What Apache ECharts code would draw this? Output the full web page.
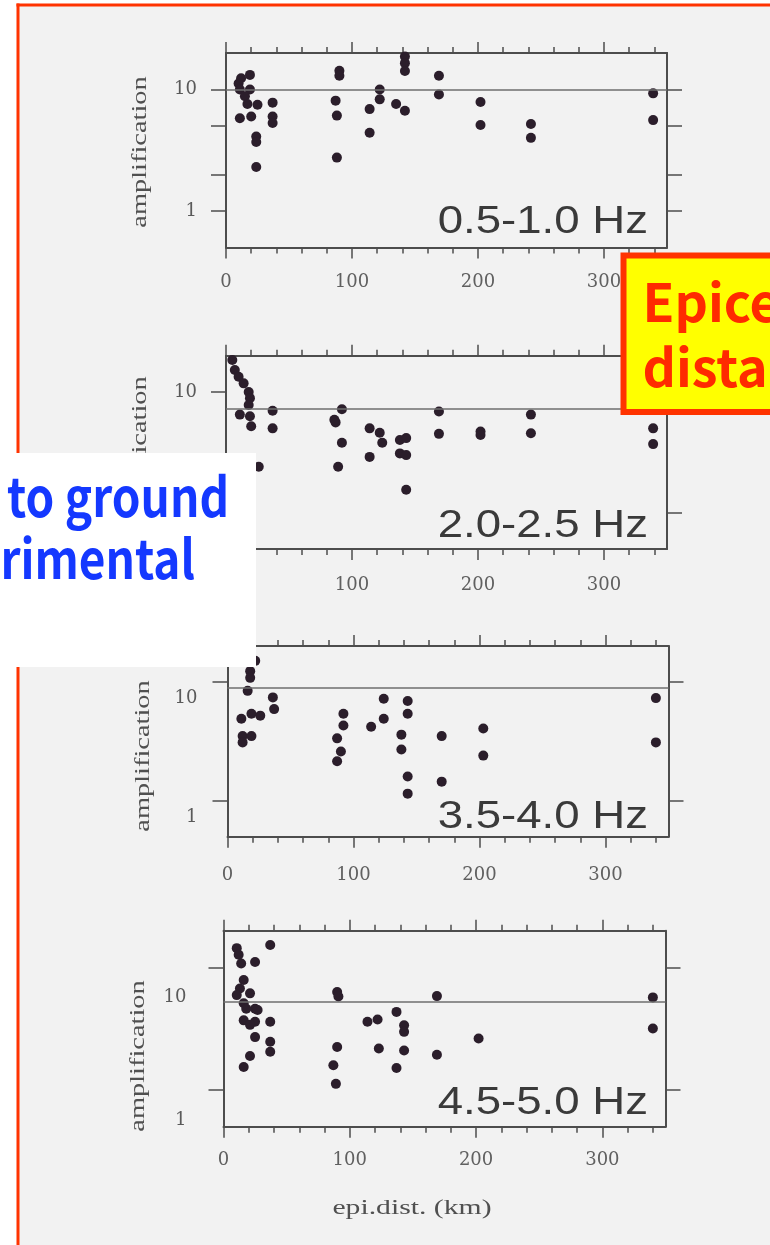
<!DOCTYPE html>
<html>
<head>
<meta charset="utf-8">
<script src="https://cdn.jsdelivr.net/npm/echarts@6/dist/echarts.min.js"></script>
<style>
html, body { margin: 0; padding: 0; background: #ffffff; }
#main { width: 770px; height: 1245px; }
</style>
</head>
<body>
<div id="main"></div>
<script>
// epicentral distance (km) / amplification, one pair of arrays per frequency band
var p1Dist = [10, 12, 19, 11, 19, 15, 17, 25, 11, 20, 37, 37, 37, 24, 24, 24, 87, 88, 90, 90, 88, 114, 114, 122, 122, 135, 142, 142, 142, 142, 169, 169, 202, 202, 242, 242, 339, 339];
var p1Amp  = [11.2, 12.4, 13.2, 10, 10, 8.8, 7.6, 7.5, 5.8, 6.0, 7.8, 6.0, 5.3, 4.1, 3.7, 2.3, 8.1, 6.1, 14.3, 13.0, 2.75, 6.9, 4.4, 10, 8.3, 7.6, 6.7, 18.7, 16.5, 14.2, 13.0, 9.1, 7.9, 5.1, 5.2, 4.0, 9.3, 5.6];

var p2Dist = [5, 7, 10, 14, 18, 19, 18, 11, 19, 20, 37, 37, 26, 92, 87, 86, 92, 89, 114, 122, 124, 114, 138, 143, 138, 143, 143, 169, 169, 202, 202, 242, 242, 339, 339];
var p2Amp  = [18.4, 15.2, 13.4, 11.8, 10, 8.9, 7.8, 6.5, 6.3, 5.2, 7.0, 5.0, 2.4, 7.2, 5.6, 5.9, 3.8, 2.4, 5.0, 4.6, 3.8, 2.9, 4.0, 4.15, 3.1, 3.0, 1.55, 6.9, 4.5, 4.7, 4.4, 6.5, 4.55, 5.0, 3.7];

var p3Dist = [22, 18, 18, 16, 36, 37, 11, 19, 26, 12, 19, 12, 92, 92, 87, 90, 87, 114, 124, 124, 143, 143, 138, 138, 143, 143, 170, 170, 203, 203, 340, 340];
var p3Amp  = [15, 12.3, 10.8, 8.4, 7.4, 5.9, 4.9, 5.4, 5.2, 3.5, 3.5, 3.1, 5.4, 4.3, 3.35, 2.6, 2.15, 4.2, 4.9, 7.2, 6.9, 5.4, 3.6, 2.7, 1.6, 1.15, 3.5, 1.45, 4.05, 2.4, 7.3, 3.1];

var p4Dist = [10.5, 12, 14, 25, 37, 16, 13, 10.5, 21, 16, 25, 18, 27, 16, 25, 21, 37, 25, 37, 37, 21, 16, 90, 91, 90, 87, 89, 114, 122, 123, 137, 143, 143, 143, 137, 169, 169, 202, 340, 340];
var p4Amp  = [14.4, 12.7, 10.8, 11.1, 15.3, 7.9, 6.75, 5.95, 6.15, 5.1, 4.6, 4.6, 4.5, 3.7, 3.6, 3.4, 3.6, 2.7, 2.47, 2.05, 1.89, 1.54, 6.3, 5.8, 2.24, 1.59, 1.12, 3.6, 3.76, 2.18, 4.34, 3.38, 2.98, 2.1, 1.51, 5.84, 1.94, 2.63, 5.7, 3.17];

var bandNames = ['0.5-1.0 Hz', '2.0-2.5 Hz', '3.5-4.0 Hz', '4.5-5.0 Hz'];
var refLevel = [10, 7.2, 9, 5.25];        // grey horizontal line in each panel
var xTickLabels = [0, 100, 200, 300];
var xMinorTicks = [20, 40, 60, 80, 120, 140, 160, 180, 220, 240, 260, 280, 320, 340];
var yTickLabels = [1, 10];
var p1YTicks = [1, 2, 5, 10];
var p2YTicks = [1, 10];
var p3YTicks = [1, 10];
var p4YTicks = [1, 10];

var chart = echarts.init(document.getElementById('main'));

var axisColor = '#4d4d4d';
var dotColor = '#2b1e2b';
var serif = '"DejaVu Serif", serif';

// panel placement (yLabOff: the scanned labels sit below their ticks)
var panels = [
  { dist: p1Dist, amp: p1Amp, ticks: p1YTicks, left: 226, top: 53, width: 441, height: 194.5, yLabOff: 0, yLabMargin: 29, xLabMargin: 26, nameX: 141, nameY: 152, bandY: 223 },
  { dist: p2Dist, amp: p2Amp, ticks: p2YTicks, left: 226, top: 355.7, width: 441, height: 193.3, yLabOff: 0, yLabMargin: 29, xLabMargin: 27, nameX: 141, nameY: 452, bandY: 527 },
  { dist: p3Dist, amp: p3Amp, ticks: p3YTicks, left: 227.5, top: 646, width: 441, height: 190.7, yLabOff: 16, yLabMargin: 30, xLabMargin: 30, nameX: 144, nameY: 756, bandY: 818 },
  { dist: p4Dist, amp: p4Amp, ticks: p4YTicks, left: 223.5, top: 930.7, width: 442, height: 196, yLabOff: 30, yLabMargin: 37, xLabMargin: 25, nameX: 139, nameY: 1056, bandY: 1104 }
];

var grids = [], xAxes = [], yAxes = [], series = [], graphics = [];

// page background and the red frame
graphics.push({ type: 'rect', z: -10, silent: true, shape: { x: 18, y: 5, width: 760, height: 1250 }, style: { fill: '#f2f2f2' } });
graphics.push({ type: 'rect', z: 60, silent: true, shape: { x: 16.5, y: 3.5, width: 760, height: 3 }, style: { fill: '#ff3300' } });
graphics.push({ type: 'rect', z: 60, silent: true, shape: { x: 16.5, y: 3.5, width: 3, height: 1250 }, style: { fill: '#ff3300' } });

panels.forEach(function (p, i) {
  grids.push({ left: p.left, top: p.top, width: p.width, height: p.height, containLabel: false, outerBoundsMode: 'none' });

  var lineSt = { color: axisColor, width: 2 };
  var tickSt = { color: axisColor, width: 1.5 };
  function xAxis(pos, major) {
    return {
      gridIndex: i, type: 'value', position: pos, min: 0, max: 350,
      splitLine: { show: false },
      axisLine: { show: major, onZero: false, lineStyle: lineSt },
      axisTick: { show: true, customValues: major ? xTickLabels : xMinorTicks, length: major ? 11 : 6, lineStyle: tickSt },
      axisLabel: (major && pos === 'bottom') ? {
        customValues: xTickLabels, margin: p.xLabMargin, color: '#606060', fontFamily: serif, fontSize: 18
      } : { show: false }
    };
  }
  xAxes.push(xAxis('bottom', true), xAxis('bottom', false), xAxis('top', true), xAxis('top', false));

  function yAxis(pos) {
    var lab = { show: false };
    if (pos === 'left') {
      lab = { customValues: yTickLabels, margin: p.yLabMargin, color: '#5a5a5a', fontFamily: serif, fontSize: 18 };
      if (p.yLabOff) {
        lab.verticalAlign = 'top';
        lab.lineHeight = 2 * p.yLabOff;
      }
    }
    return {
      gridIndex: i, type: 'log', logBase: 10, min: 0.5, max: 20, position: pos,
      splitLine: { show: false }, minorTick: { show: false },
      axisLine: { show: true, onZero: false, lineStyle: lineSt },
      axisTick: { show: true, customValues: p.ticks, length: 15, lineStyle: tickSt },
      axisLabel: lab
    };
  }
  yAxes.push(yAxis('left'), yAxis('right'));

  series.push({
    type: 'scatter', xAxisIndex: 4 * i, yAxisIndex: 2 * i, silent: true,
    data: p.dist.map(function (d, k) { return [d, p.amp[k]]; }),
    symbol: 'circle', symbolSize: 10,
    itemStyle: { color: dotColor, opacity: 1 },
    markLine: {
      silent: true, symbol: ['none', 'none'], label: { show: false },
      lineStyle: { color: '#6e6e6e', width: 1.5, type: 'solid' },
      data: [{ yAxis: refLevel[i] }]
    }
  });

  graphics.push({
    type: 'text', z: 50, silent: true, x: 648, y: p.bandY, scaleX: 1.2,
    style: { text: bandNames[i], font: '38px "Liberation Sans", Arial, sans-serif', fill: '#3a3a3a',
      align: 'right', textAlign: 'right', verticalAlign: 'middle', textVerticalAlign: 'middle' }
  });
  graphics.push({
    type: 'text', z: 50, silent: true, x: p.nameX, y: p.nameY, rotation: Math.PI / 2, scaleX: 1.42,
    style: { text: 'amplification', font: '20px "Liberation Serif", serif', fill: '#505050',
      align: 'center', textAlign: 'center', verticalAlign: 'middle', textVerticalAlign: 'middle' }
  });
});

graphics.push({
  type: 'text', z: 50, silent: true, x: 412, y: 1208, scaleX: 1.35,
  style: { text: 'epi.dist. (km)', font: '22px "Liberation Serif", serif', fill: '#505050',
    align: 'center', textAlign: 'center', verticalAlign: 'middle', textVerticalAlign: 'middle' }
});

// pasted-on notes from the slide
var noteFont = 'bold 52px "Noto Sans CJK JP", sans-serif';
var blueFont = 'bold 46px "Noto Sans CJK JP", sans-serif';
graphics.push({ type: 'rect', z: 100, silent: true, shape: { x: 623.5, y: 255.5, width: 200, height: 156.5 },
  style: { fill: '#ffff00', stroke: '#ff3300', lineWidth: 6 } });
graphics.push({ type: 'text', z: 101, silent: true, x: 642.5, y: 302,
  style: { text: 'Epicentral', font: noteFont, fill: '#ff2a00', align: 'left', textAlign: 'left', verticalAlign: 'middle', textVerticalAlign: 'middle' } });
graphics.push({ type: 'text', z: 101, silent: true, x: 642.5, y: 367,
  style: { text: 'distance', font: noteFont, fill: '#ff2a00', align: 'left', textAlign: 'left', verticalAlign: 'middle', textVerticalAlign: 'middle' } });

graphics.push({ type: 'rect', z: 100, silent: true, shape: { x: -10, y: 453, width: 266, height: 214 }, style: { fill: '#ffffff' } });
graphics.push({ type: 'text', z: 101, silent: true, x: 229, y: 496, scaleY: 1.18,
  style: { text: 'relative to ground', font: blueFont, fill: '#1438ff', align: 'right', textAlign: 'right', verticalAlign: 'middle', textVerticalAlign: 'middle' } });
graphics.push({ type: 'text', z: 101, silent: true, x: 195, y: 558, scaleY: 1.18,
  style: { text: 'experimental', font: blueFont, fill: '#1438ff', align: 'right', textAlign: 'right', verticalAlign: 'middle', textVerticalAlign: 'middle' } });

var option = {
  animation: false,
  backgroundColor: '#ffffff',
  grid: grids,
  xAxis: xAxes,
  yAxis: yAxes,
  series: series,
  graphic: { elements: graphics }
};

chart.setOption(option);
</script>
</body>
</html>
